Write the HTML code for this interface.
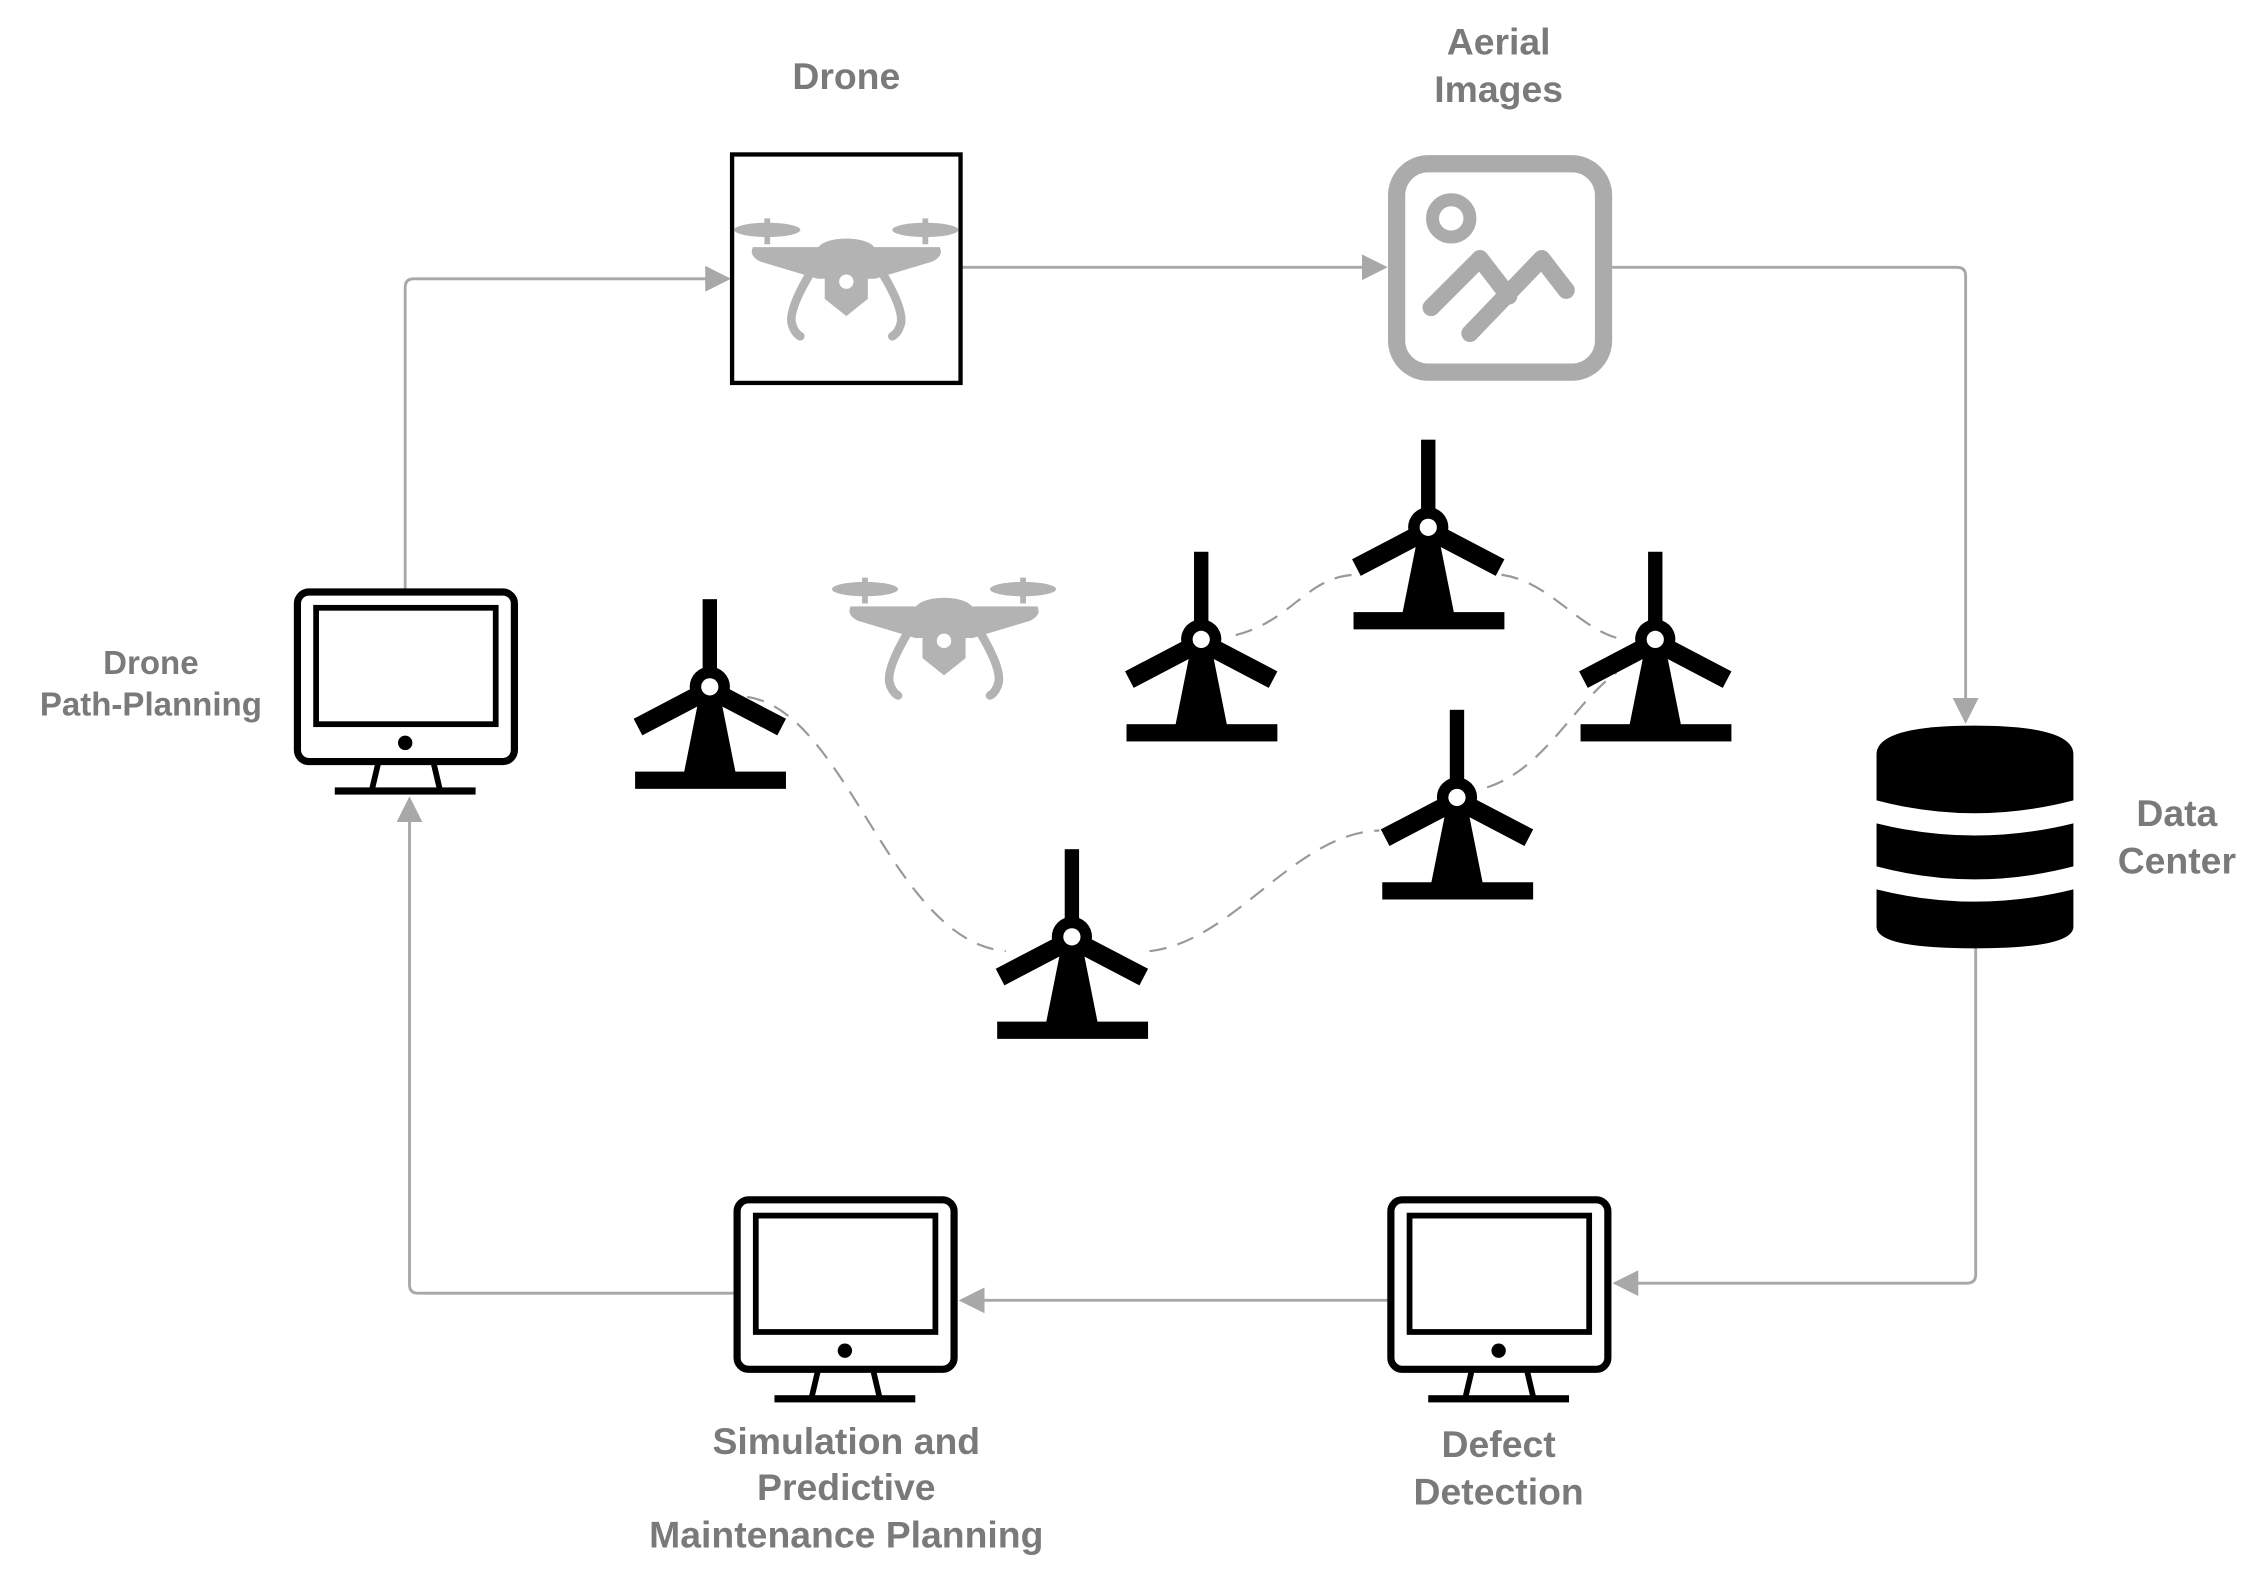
<!DOCTYPE html>
<html><head><meta charset="utf-8"><style>html,body{margin:0;padding:0;background:#fff}svg{display:block}</style></head>
<body>
<svg width="2253" height="1582" viewBox="0 0 1568 1101" preserveAspectRatio="none" xmlns="http://www.w3.org/2000/svg">
<defs>
<marker id="ah" viewBox="0 0 10 10" refX="9" refY="5" markerWidth="18" markerHeight="18" markerUnits="userSpaceOnUse" orient="auto"><path d="M0,0 L10,5 L0,10 z" fill="#a8a8a8"/></marker>
<g id="mon">
<rect x="2" y="2" width="151" height="118" rx="8" fill="none" stroke="#000" stroke-width="5"/>
<rect x="15" y="13" width="125" height="81" fill="none" stroke="#000" stroke-width="4"/>
<circle cx="77" cy="107" r="5" fill="#000"/>
<path d="M58,122 L54,139 M97,122 L101,139" stroke="#000" stroke-width="4"/>
<rect x="28" y="138" width="98" height="5" fill="#000"/>
</g>
<g id="wm">
<rect x="-5" y="-61" width="10" height="50" fill="#000"/>
<path d="M-6,0 L-18,60 L18,60 L6,0 z" fill="#000"/>
<path d="M-8,6 L-50,28" stroke="#000" stroke-width="13"/>
<path d="M8,6 L50,28" stroke="#000" stroke-width="13"/>
<circle cx="0" cy="0" r="14" fill="#000"/>
<circle cx="0" cy="0" r="6" fill="#fff"/>
<rect x="-52" y="59" width="105" height="12" fill="#000"/>
</g>
<g id="drone" fill="#b3b3b3" stroke="none">
<ellipse cx="-55" cy="-30" rx="23" ry="5"/>
<ellipse cx="55" cy="-30" rx="23" ry="5"/>
<rect x="-57" y="-38" width="4" height="18"/>
<rect x="53" y="-38" width="4" height="18"/>
<path d="M-65,-18 L65,-18 Q68,-12 60,-8 L20,4 L-20,4 L-60,-8 Q-68,-12 -65,-18 z"/>
<ellipse cx="0" cy="-16" rx="20" ry="8"/>
<path d="M-15,0 L15,0 L15,18 L0,30 L-15,18 z"/>
<circle cx="0" cy="6" r="5" fill="#fff"/>
<path d="M-25,0 Q-40,25 -38,35 Q-36,42 -32,44" fill="none" stroke="#b3b3b3" stroke-width="6" stroke-linecap="round"/>
<path d="M25,0 Q40,25 38,35 Q36,42 32,44" fill="none" stroke="#b3b3b3" stroke-width="6" stroke-linecap="round"/>
</g>
</defs>

<g fill="none" stroke="#a8a8a8" stroke-width="2">
<path d="M282,410 L282,200 Q282,194 288,194 L507,194" marker-end="url(#ah)"/>
<path d="M669,186 L964,186" marker-end="url(#ah)"/>
<path d="M1122,186 L1362,186 Q1368,186 1368,192 L1368,502" marker-end="url(#ah)"/>
<path d="M1375,660 L1375,887 Q1375,893 1369,893 L1124,893" marker-end="url(#ah)"/>
<path d="M966,905 L669,905" marker-end="url(#ah)"/>
<path d="M511,900 L291,900 Q285,900 285,894 L285,556" marker-end="url(#ah)"/>
</g>

<g fill="none" stroke="#999" stroke-width="1.5" stroke-dasharray="12,8">
<path d="M520,485 C590,495 620,655 700,662"/>
<path d="M800,662 C860,655 900,580 960,578"/>
<path d="M1035,548 C1075,535 1095,490 1125,468"/>
<path d="M860,442 C900,432 910,400 945,400"/>
<path d="M1045,400 C1080,405 1100,440 1130,445"/>
</g>

<rect x="509.5" y="107.5" width="159" height="159" fill="none" stroke="#000" stroke-width="3"/>
<use href="#drone" transform="translate(589,190)"/>
<use href="#drone" transform="translate(657,440)"/>

<rect x="972" y="114" width="144" height="145" rx="22" fill="none" stroke="#ababab" stroke-width="12"/>
<circle cx="1010" cy="152" r="13" fill="none" stroke="#ababab" stroke-width="9"/>
<path d="M996,214 L1030,180 L1050,206 M1023,232 L1073,180 L1090,202" fill="none" stroke="#ababab" stroke-width="12" stroke-linecap="round" stroke-linejoin="round"/>

<use href="#mon" transform="translate(205,410)"/>
<use href="#mon" transform="translate(511,833)"/>
<use href="#mon" transform="translate(966,833)"/>

<use href="#wm" transform="translate(494,478)"/>
<use href="#wm" transform="translate(836,445)"/>
<use href="#wm" transform="translate(994,367)"/>
<use href="#wm" transform="translate(1152,445)"/>
<use href="#wm" transform="translate(1014,555)"/>
<use href="#wm" transform="translate(746,652)"/>

<g fill="#000">
<path d="M1306,525 Q1306,505 1374,505 Q1443,505 1443,525 L1443,557 Q1374,575 1306,557 z"/>
<path d="M1306,573 Q1374,590 1443,573 L1443,603 Q1374,621 1306,603 z"/>
<path d="M1306,619 Q1374,636 1443,619 L1443,645 Q1443,660 1374,660 Q1306,660 1306,645 z"/>
</g>

<g font-family="Liberation Sans, sans-serif" font-weight="bold" fill="#7a7a7a" text-anchor="middle" font-size="26">
<text x="589" y="62">Drone</text>
<text x="1043" y="38">Aerial</text>
<text x="1043" y="71">Images</text>
<text x="105" y="469" font-size="23">Drone</text>
<text x="105" y="498" font-size="23">Path-Planning</text>
<text x="1515" y="575">Data</text>
<text x="1515" y="608">Center</text>
<text x="589" y="1012">Simulation and</text>
<text x="589" y="1044">Predictive</text>
<text x="589" y="1077">Maintenance Planning</text>
<text x="1043" y="1014">Defect</text>
<text x="1043" y="1047">Detection</text>
</g>
</svg>
</body></html>
